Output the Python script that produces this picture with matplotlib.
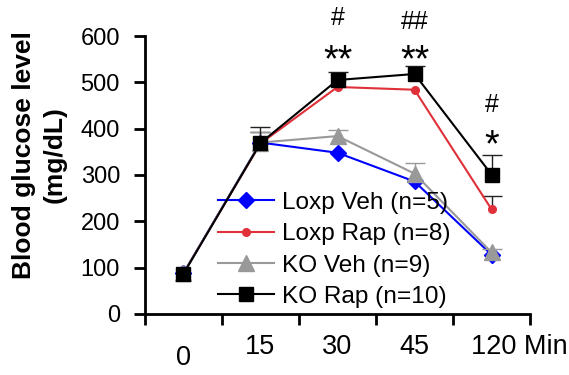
import matplotlib
matplotlib.use("Agg")
import matplotlib.pyplot as plt
from matplotlib.transforms import blended_transform_factory

plt.rcParams['font.family'] = ['Liberation Sans', 'DejaVu Sans']

categories = ["0", "15", "30", "45", "120"]
loxp_veh = [88, 370, 348, 286, 128]
loxp_veh_err = [0, 0, 0, 0, 0]
loxp_rap = [88, 368, 490, 484, 226]
loxp_rap_err = [0, 25, 0, 0, 28]
ko_veh = [88, 370, 384, 303, 133]
ko_veh_err = [0, 22, 13, 22, 8]
ko_rap = [87, 369, 505, 518, 301]
ko_rap_err = [0, 34, 18, 18, 43]
labels = ["Loxp Veh (n=5)", "Loxp Rap (n=8)", "KO Veh (n=9)", "KO Rap (n=10)"]
annots = [(2, "#", 638), (2, "**", 545), (3, "##", 630), (3, "**", 545), (4, "#", 450), (4, "*", 362)]

fig = plt.figure(figsize=(5.69, 3.75), dpi=100)
ax = fig.add_axes([0.2548, 0.1627, 0.6767, 0.7413])
x = list(range(len(categories)))

series = [
    (loxp_veh, loxp_veh_err, "#0000FF", "D", 8.5, 1.5),
    (loxp_rap, loxp_rap_err, "#E0303A", "o", 5.5, 1.5),
    (ko_veh, ko_veh_err, "#999999", "^", 11.5, 1.5),
    (ko_rap, ko_rap_err, "#000000", "s", 10, 1.5),
]
handles = []
for i, (vals, err, col, mk, ms, lw) in enumerate(series):
    ecol = "#999999" if col == "#999999" else "#222222"
    xs = [xi for xi, e in zip(x, err) if e > 0]
    lo = [v for v, e in zip(vals, err) if e > 0]
    hi = [v + e for v, e in zip(vals, err) if e > 0]
    if xs:
        ax.vlines(xs, lo, hi, colors=ecol, lw=1, zorder=2 + i)
        ax.plot(xs, hi, ls="none", marker="_", markersize=14, mew=1, color=ecol, zorder=2 + i)
    h, = ax.plot(x, vals, color=col, marker=mk, markersize=ms, lw=lw,
                 markeredgecolor=col, zorder=3 + i, label=labels[i])
    handles.append(h)

ax.set_xlim(-0.5, 4.5)
ax.set_ylim(0, 600)
ax.set_yticks([0, 100, 200, 300, 400, 500, 600])
ax.tick_params(axis='y', labelsize=17, direction='out', length=8, width=2, pad=10)
ax.set_xticks([-0.5, 0.5, 1.5, 2.5, 3.5, 4.5])
ax.set_xticklabels([])
ax.tick_params(axis='x', direction='out', length=8, width=2)
for s in ["top", "right"]:
    ax.spines[s].set_visible(False)
for s in ["left", "bottom"]:
    ax.spines[s].set_linewidth(2)

tr = blended_transform_factory(ax.transData, ax.transAxes)
for i, c in enumerate(categories):
    yoff = -0.16 if i == 0 else -0.12
    if i == len(categories) - 1:
        ax.text(i - 0.27, yoff, c + " Min", transform=tr, ha="left", va="center",
                fontsize=19.5, clip_on=False)
    else:
        ax.text(i, yoff, c, transform=tr, ha="center", va="center", fontsize=19.5, clip_on=False)

for xi, t, yv in annots:
    fs = 27 if "*" in t else 18
    ax.text(xi, yv, t, ha="center", va="center", fontsize=fs, clip_on=False)

fig.text(39 / 569, 1 - 155 / 375, "Blood glucose level\n(mg/dL)", fontsize=19,
         fontweight="bold", rotation=90, ha="center", va="center", linespacing=1.35,
         multialignment="center")

leg = ax.legend(handles=handles, loc="upper left", bbox_to_anchor=(0.19, 0.44),
                frameon=False, fontsize=17.6, handlelength=2.3, handletextpad=0.3,
                labelspacing=0.38, borderaxespad=0, borderpad=0)

fig.savefig("out.png", dpi=100)
